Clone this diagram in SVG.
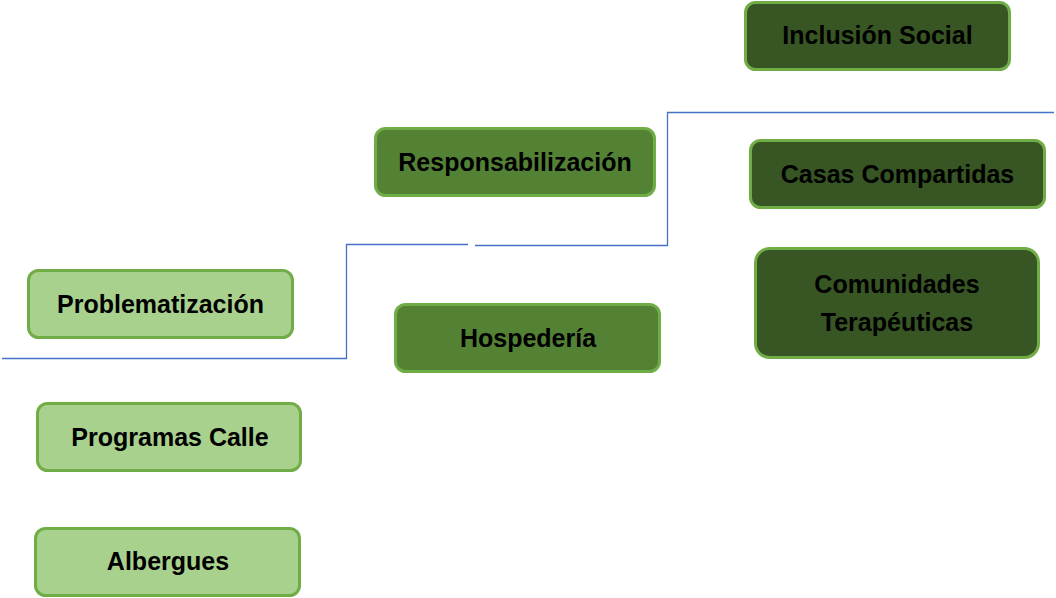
<svg xmlns="http://www.w3.org/2000/svg" width="1056" height="598" viewBox="0 0 1056 598">
<style>
.n rect{stroke:#70ad47;stroke-width:3}
.light rect{fill:#a9d18e}
.mid rect{fill:#548235}
.dark rect{fill:#375623}
.n text{font-family:"Liberation Sans",Arial,sans-serif;font-weight:bold;font-size:25px;fill:#000;text-anchor:middle}
.c{fill:none;stroke:#4472c4;stroke-width:1.3}
</style>
<rect width="1056" height="598" fill="#fff"/>
<g id="connectors">
<path class="c" d="M2,358.5 H346.5 V244.5 H468"/>
<path class="c" d="M475,245.5 H667.5 V112.5 H1054"/>
</g>
<g id="inclusion" class="n dark"><rect x="745.5" y="2.5" width="264" height="67" rx="10"/><text x="877.5" y="44">Inclusión Social</text></g>
<g id="responsabilizacion" class="n mid"><rect x="375.5" y="128.5" width="279" height="67" rx="10"/><text x="515" y="171">Responsabilización</text></g>
<g id="casas" class="n dark"><rect x="750.5" y="140.5" width="294" height="67" rx="10"/><text x="897.5" y="183">Casas Compartidas</text></g>
<g id="comunidades" class="n dark"><rect x="755.5" y="248.5" width="283" height="109" rx="14"/><text x="897" y="293">Comunidades</text><text x="897" y="331">Terapéuticas</text></g>
<g id="problematizacion" class="n light"><rect x="28.5" y="270.5" width="264" height="67" rx="10"/><text x="160.5" y="313">Problematización</text></g>
<g id="hospederia" class="n mid"><rect x="395.5" y="304.5" width="264" height="67" rx="10"/><text x="528" y="347">Hospedería</text></g>
<g id="programas" class="n light"><rect x="37.5" y="403.5" width="263" height="67" rx="10"/><text x="170" y="446">Programas Calle</text></g>
<g id="albergues" class="n light"><rect x="35.5" y="528.5" width="264" height="67" rx="10"/><text x="168" y="570">Albergues</text></g>
</svg>
